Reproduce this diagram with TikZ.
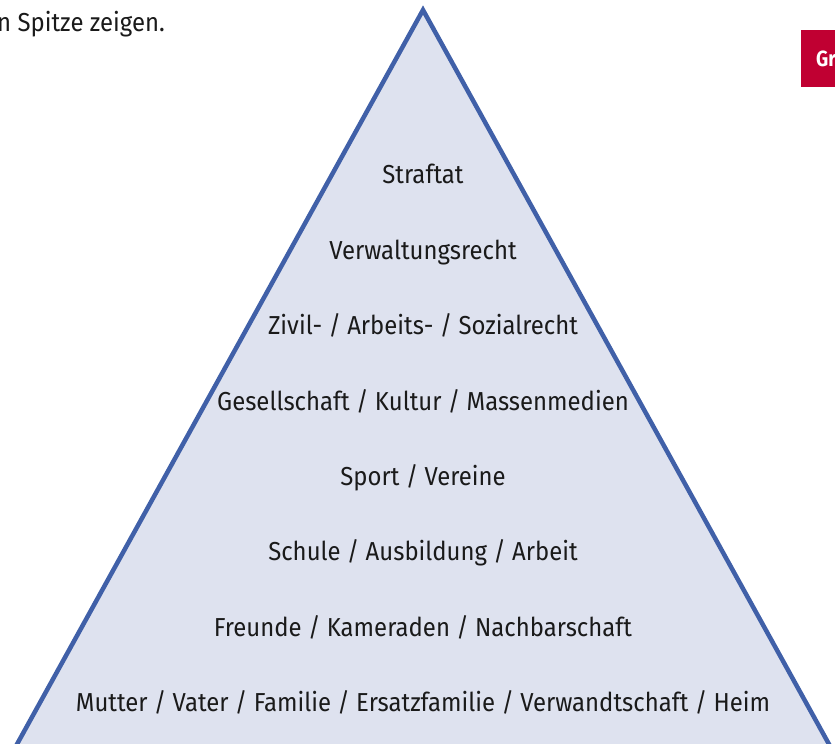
\documentclass[tikz,border=0pt]{standalone}
\usepackage{fontspec}
\setmainfont{Fira Sans}[FakeStretch=0.92]
\newfontfamily\boldf{Fira Sans}[FakeStretch=0.86,UprightFont=* Bold]
\definecolor{pyrfill}{HTML}{DEE2EF}
\definecolor{pyrline}{HTML}{4060A8}
\definecolor{tagred}{HTML}{C00032}
\definecolor{txt}{HTML}{1A1A1A}
\begin{document}
\begin{tikzpicture}[x=1pt,y=-1pt,
  level/.style={font=\fontsize{26}{30}\selectfont, text=txt, inner sep=0pt, anchor=base},
  pyr/.style={fill=pyrfill, draw=pyrline, line width=4.5pt, line join=miter}]
\useasboundingbox (0,0) rectangle (835,744);
\clip (0,0) rectangle (835,744);
\coordinate (apex) at (423,10);
\coordinate (bl) at (-5,784);
\coordinate (br) at (851,784);
\draw[pyr] (bl) -- (apex) -- (br) -- cycle;
\node[level] (l1) at (423,183) {Straftat};
\node[level] (l2) at (423,259) {Verwaltungsrecht};
\node[level] (l3) at (423,334) {Zivil- / Arbeits- / Sozialrecht};
\node[level] (l4) at (423,410) {Gesellschaft / Kultur / Massenmedien};
\node[level] (l5) at (423,485) {Sport / Vereine};
\node[level] (l6) at (423,560) {Schule / Ausbildung / Arbeit};
\node[level] (l7) at (423,636) {Freunde / Kameraden / Nachbarschaft};
\node[level] (l8) at (423,711) {Mutter / Vater / Familie / Ersatzfamilie / Verwandtschaft / Heim};
\node[level, anchor=base east] (cap) at (165,31) {n Spitze zeigen.};
\fill[tagred] (801,30) rectangle (840,87);
\node[font=\boldf\fontsize{22}{26}\selectfont, text=white, inner sep=0pt, anchor=base west] (tag) at (816,66) {Gr};
\end{tikzpicture}
\end{document}
